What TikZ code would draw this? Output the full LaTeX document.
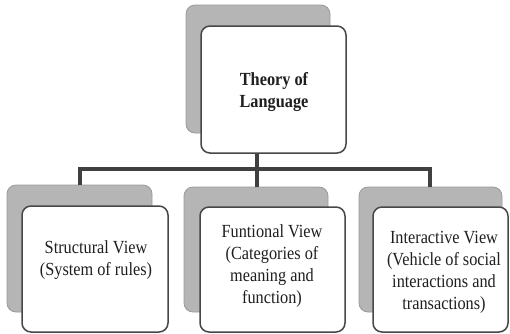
\documentclass[tikz,border=0pt]{standalone}
\usepackage{fontspec}
\setmainfont[FakeStretch=0.88]{Liberation Serif}
\begin{document}
\begin{tikzpicture}[x=1pt,y=-1pt,
  shadowbox/.style={draw=black!40,line width=0.8pt,fill=black!29,rounded corners=9pt},
  frontbox/.style={draw=black!72,line width=1.5pt,fill=white,rounded corners=9pt},
  conn/.style={draw=black!75,line width=3.2pt},
  txt/.style={align=center,inner sep=0pt,font=\fontsize{18.5}{22}\selectfont,text=black!88},
  ttl/.style={align=center,inner sep=0pt,font=\fontsize{18.5}{22}\selectfont\bfseries,text=black!88}]
\useasboundingbox (0,0) rectangle (510,333);
% shadow (back) shapes
\path[shadowbox] (186,5) rectangle (330,133);
\path[shadowbox] (7,185) rectangle (152,312);
\path[shadowbox] (184,187) rectangle (328,312);
\path[shadowbox] (359,187) rectangle (502,312);
\coordinate (tsS) at (257,133);
\coordinate (lsN) at (80,185);
\coordinate (msN) at (257,187);
\coordinate (rsN) at (430,187);
\coordinate (bar) at (0,169);
% connectors
\draw[conn] (tsS) -- (msN);
\draw[conn] (lsN) -- (lsN |- bar) -- (rsN |- bar) -- (rsN);
% front shapes
\path[frontbox] (201,26) rectangle (346,153);
\path[frontbox] (22,206) rectangle (168,332);
\path[frontbox] (200,207) rectangle (345,332);
\path[frontbox] (373,207) rectangle (508,332);
% texts
\node[ttl] (top) at (274,92) {Theory of\\Language};
\node[txt] (left) at (96,260) {Structural View\\(System of rules)};
\node[txt] (mid) at (272,266) {Funtional View\\(Categories of\\meaning and\\function)};
\node[txt] (right) at (444,272) {Interactive View\\(Vehicle of social\\interactions and\\transactions)};
\end{tikzpicture}
\end{document}
